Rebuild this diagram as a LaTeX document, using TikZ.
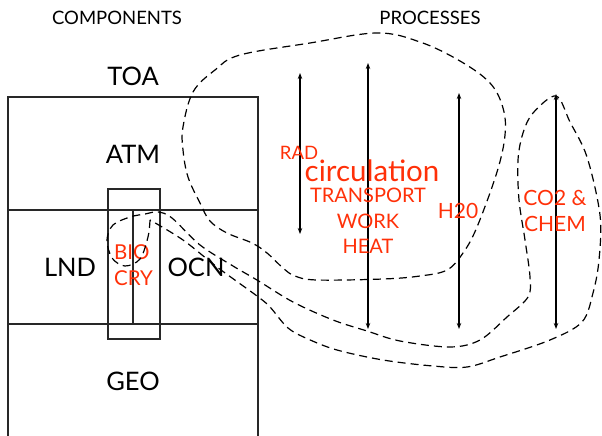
\documentclass[tikz,border=0pt]{standalone}
\usepackage{fontspec}
\setmainfont{Lato}
\usepackage{tikz}
\usetikzlibrary{arrows.meta,positioning}
\definecolor{procRed}{RGB}{255,48,8}
\definecolor{lineGray}{RGB}{40,40,40}

\begin{document}
\begin{tikzpicture}[x=1pt,y=-1pt,
  comp/.style={draw=lineGray,line width=1.3pt},
  grp/.style={draw=black,line width=1.2pt,dash pattern=on 8pt off 5pt},
  proc/.style={{Stealth[length=6pt,width=4.5pt]}-{Stealth[length=6pt,width=4.5pt]},line width=1.1pt},
  hdr/.style={font=\fontsize{18.5}{20}\selectfont},
  clbl/.style={font=\fontsize{25.5}{28}\selectfont},
  rlbl/.style={text=procRed,inner sep=0pt,font=\fontsize{20}{25.5}\selectfont,align=center}
]
  \useasboundingbox (0,0) rectangle (602,436);
  % headers
  \node[hdr] (Hcomp) at (117,18) {COMPONENTS};
  \node[hdr] (Hproc) at (430,18) {PROCESSES};
  % component stack
  \draw[comp] (8,436) -- (8,97) -- (258,97) -- (258,436);
  \draw[comp] (8,210) -- (258,210);
  \draw[comp] (8,324) -- (258,324);
  \draw[comp] (108,189) rectangle (160,339);
  \draw[comp] (133,210) -- (133,324);
  \node[clbl] (TOA) at (133,76)  {TOA};
  \node[clbl] (ATM) at (133,154) {ATM};
  \node[clbl] (LND) at (70,267)  {LND};
  \node[clbl] (OCN) at (196,267) {OCN};
  \node[clbl] (GEO) at (133,381) {GEO};
  \node[rlbl,align=left,anchor=west,font=\fontsize{20.5}{26}\selectfont] (BIO) at (114,265) {BIO\\CRY};
  % process arrows
  \coordinate (radT) at (300,73);  \coordinate (radB) at (300,234);
  \coordinate (cirT) at (368,63);  \coordinate (cirB) at (368,329);
  \coordinate (wtrT) at (459,93);  \coordinate (wtrB) at (459,329);
  \coordinate (chmT) at (556,94);  \coordinate (chmB) at (556,329);
  \draw[proc] (radT) -- (radB);
  \draw[proc] (cirT) -- (cirB);
  \draw[proc] (wtrT) -- (wtrB);
  \draw[proc] (chmT) -- (chmB);
  % process labels
  \node[rlbl,font=\fontsize{18.5}{20}\selectfont] (RAD) at (299,153) {RAD};
  \node[rlbl,font=\fontsize{29.5}{30}\selectfont] (CIRC) at (372,171) {circulation};
  \node[rlbl] (TWH) at (368,221) {TRANSPORT\\WORK\\HEAT};
  \node[rlbl,font=\fontsize{21}{25}\selectfont] (H2O) at (458,211) {H20};
  \node[rlbl,font=\fontsize{21}{26}\selectfont] (CO2) at (555,211) {CO2 \&\\CHEM};
  % physical processes group
  \draw[grp] plot[smooth cycle,tension=0.6] coordinates {
    (183,127) (193,92) (215,70) (240,55) (310,43) (377,33) (420,42) (460,61)
    (490,83) (503,108) (505,135) (497,172) (477,227) (463,253) (447,270)
    (420,276) (383,279) (317,280) (295,276) (283,268) (267,253) (252,243)
    (227,233) (210,221) (200,203) (188,177) (183,150)};
  % bio / chemistry group
  \draw[grp] plot[smooth,tension=0.55] coordinates {
    (150,220) (148,237) (140,259) (125,266) (112,258) (107,240) (113,225)
    (130,217) (145,214) (158,212) (172,218) (200,245) (233,266) (257,280)
    (293,302) (333,320) (367,331) (400,341) (450,347) (480,340) (507,317)
    (528,297) (530,277) (525,240) (519,200) (518,160) (523,133) (533,113)
    (556,96) (570,122) (587,157) (600,215) (599,260) (593,293) (582,322)
    (550,340) (500,357) (467,367) (433,366) (383,360) (337,350) (308,339)
    (288,328) (270,307) (257,296) (217,267) (183,240) (150,220)};
\end{tikzpicture}
\end{document}
